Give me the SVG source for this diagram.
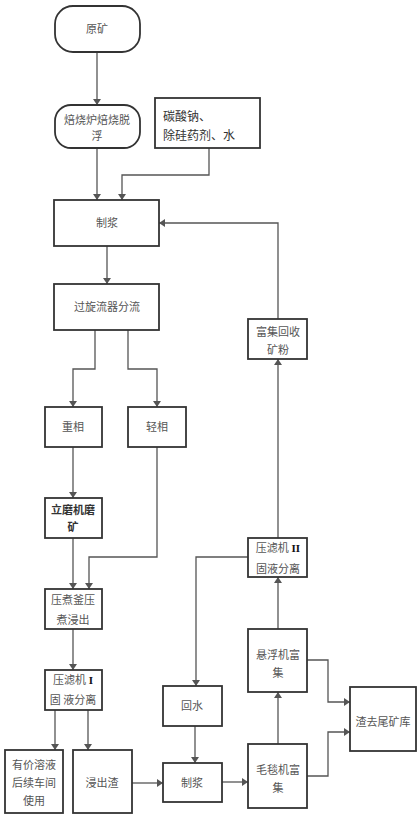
<svg xmlns="http://www.w3.org/2000/svg" width="420" height="819" viewBox="0 0 420 819">
<style>
.b{fill:#fff;stroke:#333;stroke-width:1.8}
.t{font-family:"Noto Sans CJK SC","Noto Sans",sans-serif;font-size:11px;fill:#555;text-anchor:middle}
.c{fill:none;stroke:#555;stroke-width:1.3}
.s{font-family:"Liberation Serif",serif;fill:#111;font-weight:bold}
</style>
<defs>
<marker id="a" viewBox="0 0 10 10" refX="10" refY="5" markerWidth="6" markerHeight="8" markerUnits="userSpaceOnUse" orient="auto" preserveAspectRatio="none">
<path d="M0,0 L10,5 L0,10 z" fill="#555"/>
</marker>
</defs>
<rect width="420" height="819" fill="#fff"/>
<g id="connectors">
<path class="c" marker-end="url(#a)" d="M97,52 V105"/>
<path class="c" marker-end="url(#a)" d="M97,148 V200"/>
<path class="c" marker-end="url(#a)" d="M209,148 V175 H122 V200"/>
<path class="c" marker-end="url(#a)" d="M107,246 V284"/>
<path class="c" marker-end="url(#a)" d="M278,319 V223 H159"/>
<path class="c" marker-end="url(#a)" d="M95,330 V369 H73 V407"/>
<path class="c" marker-end="url(#a)" d="M128,330 V369 H157 V407"/>
<path class="c" marker-end="url(#a)" d="M73,447 V498"/>
<path class="c" marker-end="url(#a)" d="M157,447 V557 H89 V589"/>
<path class="c" marker-end="url(#a)" d="M73,538 V589"/>
<path class="c" marker-end="url(#a)" d="M73,629 V670"/>
<path class="c" marker-end="url(#a)" d="M55,710 V750"/>
<path class="c" marker-end="url(#a)" d="M88,710 V750"/>
<path class="c" marker-end="url(#a)" d="M132,783 H163"/>
<path class="c" marker-end="url(#a)" d="M248,557 H196 V686"/>
<path class="c" marker-end="url(#a)" d="M195,726 V763"/>
<path class="c" marker-end="url(#a)" d="M222,782 H248"/>
<path class="c" marker-end="url(#a)" d="M278,744 V692"/>
<path class="c" marker-end="url(#a)" d="M278,629 V577"/>
<path class="c" marker-end="url(#a)" d="M278,538 V359"/>
<path class="c" marker-end="url(#a)" d="M307,660 H328 V702 H350"/>
<path class="c" marker-end="url(#a)" d="M307,776 H328 V732 H350"/>
</g>
<g id="n1"><rect class="b" x="55" y="6" width="85" height="46" rx="18"/><text class="t" x="97" y="33">原矿</text></g>
<g id="n2"><rect class="b" x="55" y="105" width="85" height="43" rx="16"/><text class="t" x="97" y="124">焙烧炉焙烧脱</text><text class="t" x="97" y="140">浮</text></g>
<g id="n3"><rect class="b" x="155" y="98" width="105" height="50"/><text class="t" x="163" y="121" style="text-anchor:start;font-size:12px;fill:#333">碳酸钠、</text><text class="t" x="163" y="140" style="text-anchor:start;font-size:12px;fill:#333">除硅药剂、水</text></g>
<g id="n4"><rect class="b" x="54" y="200" width="105" height="46"/><text class="t" x="107" y="227">制浆</text></g>
<g id="n5"><rect class="b" x="54" y="284" width="105" height="46"/><text class="t" x="107" y="311">过旋流器分流</text></g>
<g id="n6"><rect class="b" x="248" y="319" width="59" height="40"/><text class="t" x="278" y="336">富集回收</text><text class="t" x="278" y="354">矿粉</text></g>
<g id="n7"><rect class="b" x="45" y="407" width="57" height="40"/><text class="t" x="73" y="431">重相</text></g>
<g id="n8"><rect class="b" x="128" y="407" width="58" height="40"/><text class="t" x="157" y="431">轻相</text></g>
<g id="n9"><rect class="b" x="45" y="498" width="57" height="40"/><text class="t" x="73" y="514" style="font-weight:bold;fill:#333">立磨机磨</text><text class="t" x="73" y="531" style="font-weight:bold;fill:#333">矿</text></g>
<g id="n10"><rect class="b" x="45" y="589" width="57" height="40"/><text class="t" x="73" y="604">压煮釜压</text><text class="t" x="73" y="624">煮浸出</text></g>
<g id="n11"><rect class="b" x="45" y="670" width="57" height="40"/><text class="t" x="73" y="684">压滤机<tspan class="s"> I</tspan></text><text class="t" x="73" y="704">固 液分离</text></g>
<g id="n12"><rect class="b" x="5" y="750" width="58" height="63"/><text class="t" x="34" y="769">有价溶液</text><text class="t" x="34" y="787">后续车间</text><text class="t" x="34" y="805">使用</text></g>
<g id="n13"><rect class="b" x="73" y="750" width="59" height="63"/><text class="t" x="102" y="787">浸出渣</text></g>
<g id="n14"><rect class="b" x="163" y="686" width="59" height="40"/><text class="t" x="192" y="710">回水</text></g>
<g id="n15"><rect class="b" x="163" y="763" width="59" height="39"/><text class="t" x="192" y="787">制浆</text></g>
<g id="n16"><rect class="b" x="248" y="538" width="59" height="39"/><text class="t" x="278" y="552">压滤机<tspan class="s"> II</tspan></text><text class="t" x="278" y="573">固液分离</text></g>
<g id="n17"><rect class="b" x="248" y="629" width="59" height="63"/><text class="t" x="278" y="659">悬浮机富</text><text class="t" x="278" y="677">集</text></g>
<g id="n18"><rect class="b" x="248" y="744" width="59" height="64"/><text class="t" x="278" y="774">毛毯机富</text><text class="t" x="278" y="792">集</text></g>
<g id="n19"><rect class="b" x="350" y="687" width="66" height="64"/><text class="t" x="383" y="726">渣去尾矿库</text></g>
</svg>
